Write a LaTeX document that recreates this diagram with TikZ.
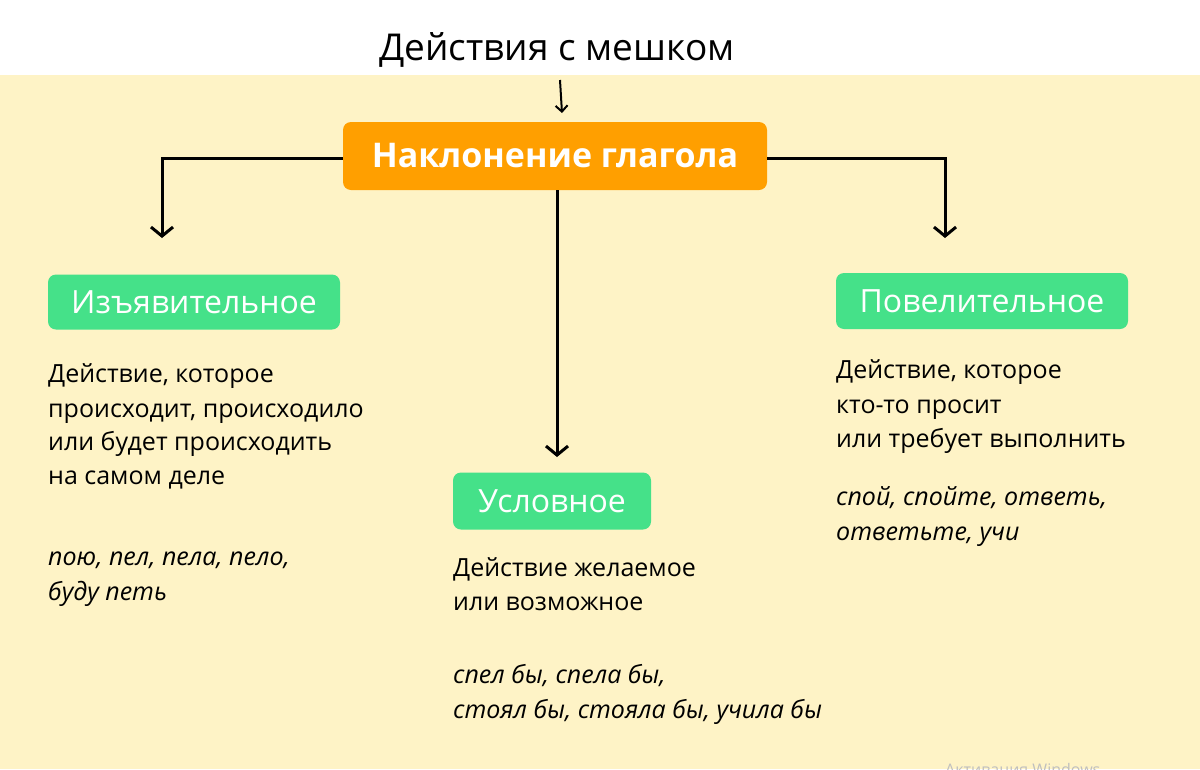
\documentclass[tikz,border=0pt]{standalone}
\usepackage{fontspec}
\setmainfont{Open Sans}
\usetikzlibrary{arrows.meta}
\definecolor{bg}{HTML}{FEF3C6}
\definecolor{org}{HTML}{FF9F00}
\definecolor{grn}{HTML}{45E189}
\begin{document}
\begin{tikzpicture}[x=1pt,y=-1pt,
  box/.style={fill=#1,rounded corners=8pt,text=white,inner sep=0pt},
  ln/.style={anchor=base west,inner sep=0pt,font=\fontsize{25}{28}\selectfont},
  ex/.style={ln,font=\fontsize{25}{28}\selectfont\itshape},
  conn/.style={line width=3pt,-{Straight Barb[length=9pt,width=22pt,line width=3pt]}}]
\useasboundingbox (0,0) rectangle (1200,769);
\fill[white] (0,0) rectangle (1200,75);
\fill[bg] (0,75) rectangle (1200,769);
\node[anchor=base,inner sep=0pt,font=\fontsize{37}{40}\selectfont] (title) at (557,60) {Действия с мешком};
\node[box=org,minimum width=424pt,minimum height=68pt,font=\fontsize{34}{36}\selectfont\bfseries] (main) at (555,156) {Наклонение глагола};
\node[box=grn,minimum width=292pt,minimum height=55pt,font=\fontsize{32}{34}\selectfont] (ind) at (194,302) {Изъявительное};
\node[box=grn,minimum width=292pt,minimum height=56pt,font=\fontsize{32}{34}\selectfont] (imp) at (982,301) {Повелительное};
\node[box=grn,minimum width=198pt,minimum height=57pt,font=\fontsize{32}{34}\selectfont] (cond) at (552,501) {Условное};
\coordinate (tA) at (560,80);
\coordinate (tB) at (562,113);
\draw[line width=2pt,-{Straight Barb[length=6pt,width=12pt,line width=2pt]}] (tA) -- (tB);
\coordinate (lc) at (162,158);
\coordinate (le) at (162,238);
\coordinate (rc) at (945,158);
\coordinate (re) at (945,238);
\coordinate (ce) at (557,457);
\draw[conn] (main.west |- lc) -- (lc) -- (le);
\draw[conn] (main.east |- rc) -- (rc) -- (re);
\draw[conn] (main.south -| ce) -- (ce);
\node[ln] (l1) at (48,382) {Действие, которое};
\node[ln] (l2) at (48,417) {происходит, происходило};
\node[ln] (l3) at (48,450) {или будет происходить};
\node[ln] (l4) at (48,484) {на самом деле};
\node[ex] (l5) at (48,565) {пою, пел, пела, пело,};
\node[ex] (l6) at (48,600) {буду петь};
\node[ln] (c1) at (453,576) {Действие желаемое};
\node[ln] (c2) at (453,610) {или возможное};
\node[ex] (c3) at (453,683) {спел бы, спела бы,};
\node[ex] (c4) at (453,718) {стоял бы, стояла бы, учила бы};
\node[ln] (r1) at (836,378) {Действие, которое};
\node[ln] (r2) at (836,413) {кто-то просит};
\node[ln] (r3) at (836,447) {или требует выполнить};
\node[ex] (r4) at (836,505) {спой, спойте, ответь,};
\node[ex] (r5) at (836,540) {ответьте, учи};
\begin{scope}
\clip (0,0) rectangle (1200,769);
\node[anchor=base west,inner sep=0pt,text=black!25,font=\fontsize{16}{18}\selectfont] (wm) at (945,775) {Активация Windows};
\end{scope}
\end{tikzpicture}
\end{document}
